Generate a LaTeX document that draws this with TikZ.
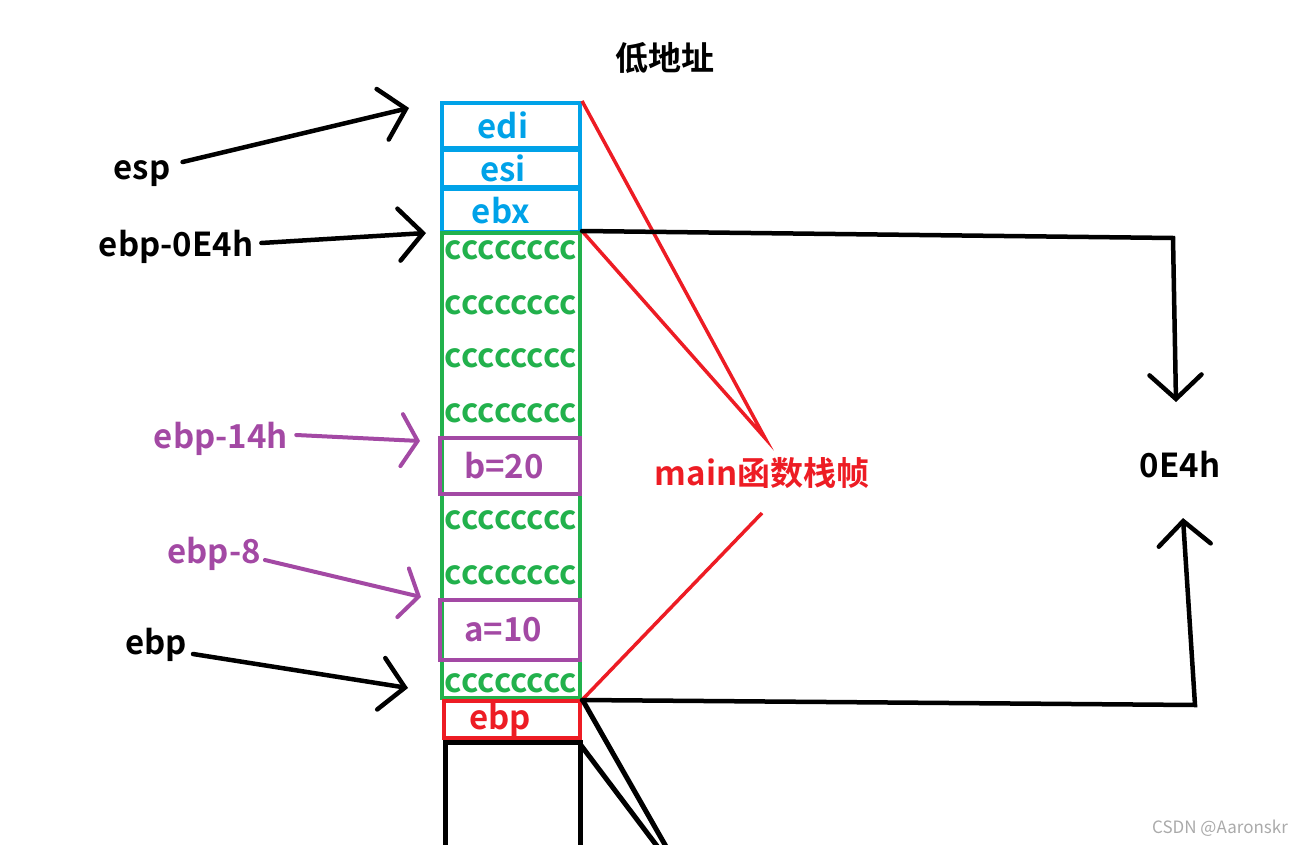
\documentclass[tikz,border=0pt]{standalone}
\usepackage{fontspec}
\setmainfont{Noto Sans CJK SC}[BoldFont={Noto Sans CJK SC Bold}]
\usetikzlibrary{arrows.meta}
\definecolor{pblue}{RGB}{0,162,232}
\definecolor{pgreen}{RGB}{34,177,76}
\definecolor{ppurple}{RGB}{163,73,164}
\definecolor{pred}{RGB}{237,28,36}
\definecolor{pgray}{RGB}{170,170,170}

\begin{document}
\begin{tikzpicture}[x=1pt,y=-1pt,
    txt/.style={font=\fontsize{33}{38}\selectfont\bfseries, inner sep=0pt},
    cell/.style={draw, line width=4pt, minimum width=138pt, inner sep=0pt, txt},
    ptr/.style={line width=4.5pt, line cap=round, -{Straight Barb[length=24pt,width=52pt,line cap=round]}}]
          \useasboundingbox (0,0) rectangle (1316,845);
          \node[txt] (low) at (665,58) {低地址};

          \node[cell, pblue, minimum height=45pt, label={[txt, pblue, xshift=-8pt]center:edi}] (edi) at (511,125.5) {};
          \node[cell, pblue, minimum height=37pt, label={[txt, pblue, xshift=-8pt]center:esi}] (esi) at (511,168.5) {};
          \node[cell, pblue, minimum height=43pt, label={[txt, pblue, xshift=-10pt]center:ebx}] (ebx) at (511,210.5) {};
          \node[draw=pgreen, line width=4pt, minimum width=138pt, minimum height=465pt] (frame) at (511,465.5) {};
          \node[txt, pgreen] (c1) at (511,250) {cccccccc};
          \node[txt, pgreen] (c2) at (511,305) {cccccccc};
          \node[txt, pgreen] (c3) at (511,358) {cccccccc};
          \node[txt, pgreen] (c4) at (511,413) {cccccccc};
          \node[cell, ppurple, minimum width=140pt, minimum height=56pt, label={[txt, ppurple, xshift=-6pt]center:b=20}] (b) at (510,466) {};
          \node[txt, pgreen] (c5) at (511,520) {cccccccc};
          \node[txt, pgreen] (c6) at (511,575) {cccccccc};
          \node[cell, ppurple, minimum width=140pt, minimum height=60pt, label={[txt, ppurple, xshift=-7pt]center:a=10}] (a) at (510,630) {};
          \node[txt, pgreen] (c7) at (511,683) {cccccccc};
          \node[cell, pred, minimum width=136pt, minimum height=37pt, label={[txt, pred, xshift=-12pt]center:ebp}] (saved) at (512,719.5) {};
          \draw[line width=5pt] (445,850) |- (580,742) -- (580,850);
          \coordinate (old) at (580,744);

          \node[txt] (esp) at (142,174) {esp};
          \node[txt] (top) at (176,247) {ebp-0E4h};
          \node[txt, ppurple] (l14) at (221,439) {ebp-14h};
          \node[txt, ppurple] (l8) at (214,554) {ebp-8};
          \node[txt] (base) at (156,645) {ebp};
          \coordinate (tesp) at (409,108);
          \coordinate (ttop) at (426,233);
          \coordinate (t14) at (420,441);
          \coordinate (t8) at (421,597);
          \coordinate (tbase) at (408,688);

          \draw[ptr] ([shift={(12,-12)}]esp.east) -- (tesp);
          \draw[ptr] ([shift={(8,-4)}]top.east) -- (ttop);
          \draw[ptr, ppurple, line width=4pt, -{Straight Barb[length=16pt,width=52pt,line cap=round]}] ([shift={(8,-4)}]l14.east) -- (t14);
          \draw[ptr, ppurple, line width=4pt, -{Straight Barb[length=16pt,width=50pt,line cap=round]}] ([shift={(4,6)}]l8.east) -- (t8);
          \draw[ptr] ([shift={(6,9)}]base.east) -- (tbase);

          \node[txt, pred] (frm) at (762,473) {main函数栈帧};
          \coordinate (fu) at (765,438);
          \coordinate (fd) at (762,513);
          \draw[pred, line width=3.5pt] (edi.north east) -- (fu) -- (frame.north east);
          \draw[pred, line width=3.5pt] (frame.south east) -- (fd);

          \node[txt] (size) at (1180,465) {0E4h};
          \coordinate (su) at (1176,402);
          \coordinate (sd) at (1183,518);
          \draw[ptr] (frame.north east) -- (1173,238) -- (su);
          \draw[ptr] (frame.south east) -- (1195,705) -- (sd);

          \draw[line width=5pt] (saved.north east) -- (668,850);
          \draw[line width=5pt] (old) -- (660,850);

          \node[font=\fontsize{17}{20}\selectfont, pgray] (mark) at (1220,828) {CSDN @Aaronskr};
        \end{tikzpicture}
\end{document}
